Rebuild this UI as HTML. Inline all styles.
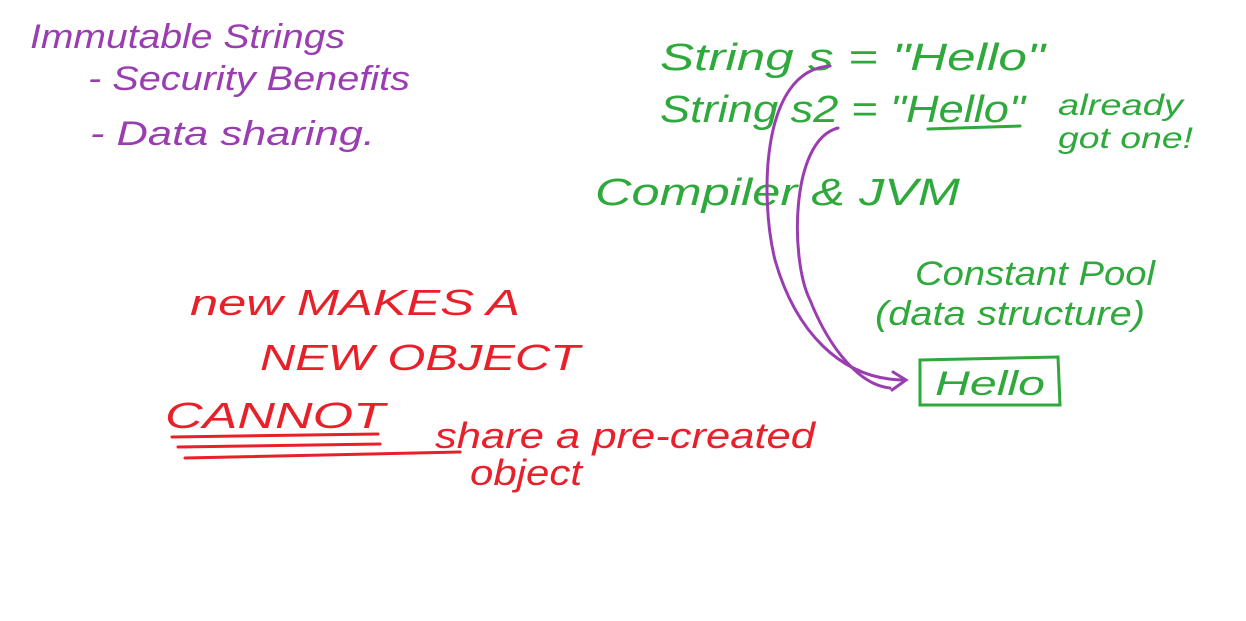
<!DOCTYPE html>
<html><head><meta charset="utf-8">
<style>
html,body{margin:0;padding:0;background:#fff;}
svg{display:block;}
text{font-family:"Liberation Sans",sans-serif;font-style:italic;}
</style></head>
<body>
<svg width="1246" height="621" viewBox="0 0 1246 621" xmlns="http://www.w3.org/2000/svg">
<g fill="#9a3db0" font-size="34">
<text x="30" y="48" textLength="315" lengthAdjust="spacingAndGlyphs">Immutable Strings</text>
<text x="88" y="90" textLength="322" lengthAdjust="spacingAndGlyphs">- Security Benefits</text>
<text x="90" y="145" textLength="285" lengthAdjust="spacingAndGlyphs">- Data sharing.</text>
</g>
<g fill="#2fa83c" font-size="38">
<text x="660" y="70" textLength="385" lengthAdjust="spacingAndGlyphs">String s = "Hello"</text>
<text x="660" y="122" textLength="365" lengthAdjust="spacingAndGlyphs">String s2 = "Hello"</text>
<text x="1058" y="115" font-size="30" textLength="125" lengthAdjust="spacingAndGlyphs">already</text>
<text x="1058" y="148" font-size="30" textLength="135" lengthAdjust="spacingAndGlyphs">got one!</text>
<text x="595" y="205" textLength="365" lengthAdjust="spacingAndGlyphs">Compiler &amp; JVM</text>
<text x="915" y="285" font-size="34" textLength="240" lengthAdjust="spacingAndGlyphs">Constant Pool</text>
<text x="875" y="325" font-size="34" textLength="270" lengthAdjust="spacingAndGlyphs">(data structure)</text>
<text x="935" y="395" font-size="34" textLength="110" lengthAdjust="spacingAndGlyphs">Hello</text>
</g>
<g fill="none" stroke="#2fa83c" stroke-width="3" stroke-linecap="round">
<path d="M928 129 L1020 126"/>
<path d="M920 360 L1058 357 L1060 405 L920 405 Z"/>
</g>
<g fill="#e8202a" font-size="36">
<text x="190" y="315" textLength="330" lengthAdjust="spacingAndGlyphs">new MAKES A</text>
<text x="260" y="370" textLength="320" lengthAdjust="spacingAndGlyphs">NEW OBJECT</text>
<text x="165" y="428" textLength="220" lengthAdjust="spacingAndGlyphs">CANNOT</text>
<text x="435" y="448" textLength="380" lengthAdjust="spacingAndGlyphs">share a pre-created</text>
<text x="470" y="485" textLength="112" lengthAdjust="spacingAndGlyphs">object</text>
</g>
<g fill="none" stroke="#e8202a" stroke-width="3" stroke-linecap="round">
<path d="M172 437 L378 434"/>
<path d="M178 447 L380 444"/>
<path d="M185 458 L460 452"/>
</g>
<g fill="none" stroke="#9a3db0" stroke-width="3" stroke-linecap="round">
<path d="M830 66 C760 70 760 200 775 260 C795 330 840 380 905 380"/>
<path d="M838 128 C790 140 790 260 810 300 C830 350 860 385 890 388"/>
<path d="M893 372 L906 380 L892 390"/>
</g>
</svg>
</body></html>
